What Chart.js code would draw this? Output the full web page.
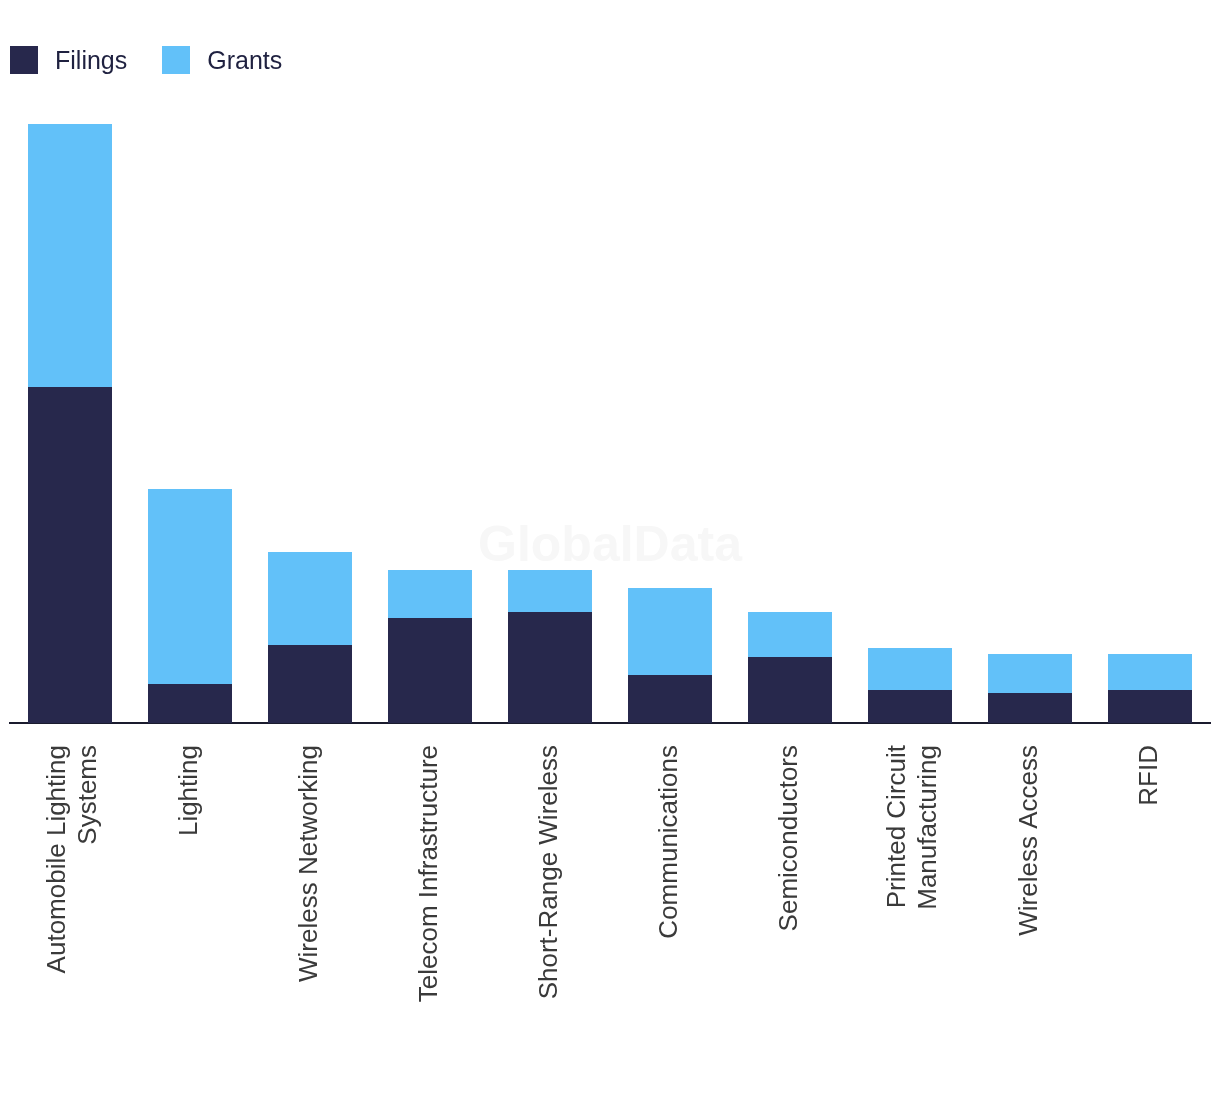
<!DOCTYPE html>
<html>
<head>
<meta charset="utf-8">
<script src="https://cdn.jsdelivr.net/npm/chart.js@4/dist/chart.umd.min.js"></script>
<style>
  html, body { margin: 0; padding: 0; background: #ffffff; }
  #wrap { position: relative; width: 1220px; height: 1094px; }
  #legend { position: absolute; left: 10px; top: 46px; display: flex; align-items: center; font-family: "Liberation Sans", Arial, sans-serif; font-size: 25px; color: #1f2140; line-height: 28px; }
  .item { display: flex; align-items: center; margin-right: 35px; }
  .sw { width: 28px; height: 28px; margin-right: 17px; }
</style>
</head>
<body>
<div id="wrap">
  <canvas id="c" width="1220" height="1094"></canvas>
  <div id="legend"></div>
</div>
<script>
const categories = [
  ["Automobile Lighting", "Systems"],
  "Lighting",
  "Wireless Networking",
  "Telecom Infrastructure",
  "Short-Range Wireless",
  "Communications",
  "Semiconductors",
  ["Printed Circuit", "Manufacturing"],
  "Wireless Access",
  "RFID"
];
const filings = [112, 13, 26, 35, 37, 16, 22, 11, 10, 11];
const grants  = [88, 65, 31, 16, 14, 29, 15, 14, 13, 12];
const seriesNames = ["Filings", "Grants"];
const seriesColors = ["#27284c", "#62c1f9"];

const watermark = {
  id: 'watermark',
  beforeDatasetsDraw(chart) {
    const ctx = chart.ctx;
    ctx.save();
    ctx.font = 'bold 50px "Liberation Sans", Arial, sans-serif';
    ctx.fillStyle = '#f7f7f7';
    ctx.textAlign = 'center';
    ctx.textBaseline = 'middle';
    ctx.fillText('GlobalData', 610, 547);
    ctx.restore();
  }
};

// centre multi-line rotated labels on their tick
const centerMultiline = {
  id: 'centerMultiline',
  beforeDraw(chart) {
    const scale = chart.scales.x;
    const items = scale.getLabelItems();
    items.forEach(it => {
      if (Array.isArray(it.label) && it.label.length > 1 && !it._shifted) {
        it.options.translation[0] -= (it.label.length - 1) * 12;
        it._shifted = true;
      }
    });
  }
};

const chart = new Chart(document.getElementById('c'), {
  type: 'bar',
  data: {
    labels: categories,
    datasets: [
      { label: seriesNames[0], data: filings, backgroundColor: seriesColors[0] },
      { label: seriesNames[1], data: grants, backgroundColor: seriesColors[1] }
    ]
  },
  options: {
    responsive: false,
    animation: false,
    layout: { padding: { top: 124, left: 10, right: 10, bottom: 0 } },
    datasets: { bar: { barPercentage: 0.7, categoryPercentage: 1.0 } },
    plugins: {
      legend: { display: false },
      tooltip: { enabled: false }
    },
    scales: {
      x: {
        stacked: true,
        grid: { display: false },
        border: { display: true, color: '#1a1b2e', width: 2 },
        ticks: {
          autoSkip: false,
          minRotation: 90,
          maxRotation: 90,
          padding: 14,
          color: '#3a3a3a',
          font: { family: '"Liberation Sans", Arial, sans-serif', size: 26, lineHeight: 1.2 }
        },
        afterFit(scale) { scale.height = 371; }
      },
      y: {
        stacked: true,
        display: false,
        min: 0,
        max: 199.7
      }
    }
  },
  plugins: [watermark, centerMultiline]
});

const legend = document.getElementById('legend');
chart.data.datasets.forEach(ds => {
  const it = document.createElement('div');
  it.className = 'item';
  const sw = document.createElement('div');
  sw.className = 'sw';
  sw.style.background = ds.backgroundColor;
  const tx = document.createElement('span');
  tx.textContent = ds.label;
  it.appendChild(sw); it.appendChild(tx);
  legend.appendChild(it);
});
</script>
</body>
</html>
